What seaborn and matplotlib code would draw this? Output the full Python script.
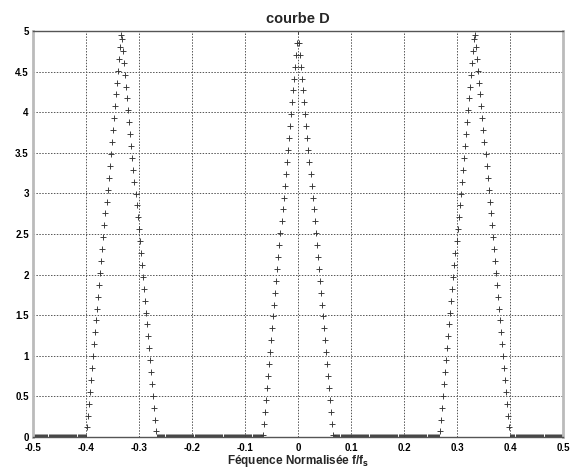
import numpy as np
import matplotlib
matplotlib.use("Agg")
import matplotlib.pyplot as plt
import seaborn as sns
from matplotlib.ticker import FuncFormatter

# normalised frequency grid (512 bins from -0.5 to 0.5)
n_bins = 512
freq = np.arange(-n_bins // 2, n_bins // 2) / n_bins

# amplitude: three triangular lobes, zero elsewhere
lobe_neg = [0.117, 0.264, 0.410, 0.557, 0.703, 0.850, 0.996, 1.143, 1.289, 1.436,
            1.582, 1.729, 1.875, 2.021, 2.168, 2.314, 2.461, 2.607, 2.754, 2.900,
            3.047, 3.193, 3.340, 3.486, 3.633, 3.779, 3.926, 4.072, 4.219, 4.365,
            4.512, 4.658, 4.805, 4.951,
            4.902, 4.756, 4.609, 4.463, 4.316, 4.170, 4.023, 3.877, 3.730, 3.584,
            3.438, 3.291, 3.145, 2.998, 2.852, 2.705, 2.559, 2.412, 2.266, 2.119,
            1.973, 1.826, 1.680, 1.533, 1.387, 1.240, 1.094, 0.947, 0.801, 0.654,
            0.508, 0.361, 0.215, 0.068]
lobe_mid = [0.020, 0.166, 0.312, 0.459, 0.605, 0.752, 0.898, 1.045, 1.191, 1.338,
            1.484, 1.631, 1.777, 1.924, 2.070, 2.217, 2.363, 2.510, 2.656, 2.803,
            2.949, 3.096, 3.242, 3.389, 3.535, 3.682, 3.828, 3.975, 4.121, 4.268,
            4.414, 4.561, 4.707, 4.854, 5.000,
            4.854, 4.707, 4.561, 4.414, 4.268, 4.121, 3.975, 3.828, 3.682, 3.535,
            3.389, 3.242, 3.096, 2.949, 2.803, 2.656, 2.510, 2.363, 2.217, 2.070,
            1.924, 1.777, 1.631, 1.484, 1.338, 1.191, 1.045, 0.898, 0.752, 0.605,
            0.459, 0.312, 0.166, 0.020]
lobe_pos = [0.068, 0.215, 0.361, 0.508, 0.654, 0.801, 0.947, 1.094, 1.240, 1.387,
            1.533, 1.680, 1.826, 1.973, 2.119, 2.266, 2.412, 2.559, 2.705, 2.852,
            2.998, 3.145, 3.291, 3.438, 3.584, 3.730, 3.877, 4.023, 4.170, 4.316,
            4.463, 4.609, 4.756, 4.902,
            4.951, 4.805, 4.658, 4.512, 4.365, 4.219, 4.072, 3.926, 3.779, 3.633,
            3.486, 3.340, 3.193, 3.047, 2.900, 2.754, 2.607, 2.461, 2.314, 2.168,
            2.021, 1.875, 1.729, 1.582, 1.436, 1.289, 1.143, 0.996, 0.850, 0.703,
            0.557, 0.410, 0.264, 0.117]
zero_runs = [52, 102, 102, 51]

amp = np.concatenate([np.zeros(zero_runs[0]), lobe_neg,
                      np.zeros(zero_runs[1]), lobe_mid,
                      np.zeros(zero_runs[2]), lobe_pos,
                      np.zeros(zero_runs[3])])

xticks = np.round(np.arange(-0.5, 0.51, 0.1), 1)
yticks = np.arange(0, 5.01, 0.5)

sns.set_style("whitegrid")
plt.rcParams['font.family'] = ['Liberation Sans', 'DejaVu Sans']

fig = plt.figure(figsize=(5.87, 4.71), dpi=100)
ax = fig.add_axes([0.0562, 0.0722, 0.9032, 0.862])

sns.scatterplot(x=freq, y=amp, marker='+', color='#333333', s=18,
                linewidth=0.65, ax=ax, legend=False)

ax.set_xlim(-0.5, 0.5)
ax.set_ylim(0, 5)
ax.set_xticks(xticks)
ax.set_yticks(yticks)
fmt = FuncFormatter(lambda v, p: f'{v:g}' if abs(v) > 1e-9 else '0')
ax.xaxis.set_major_formatter(fmt)
ax.yaxis.set_major_formatter(fmt)
ax.tick_params(axis='both', direction='in', length=3, labelsize=7,
               colors='#333333', labelcolor='black')
ax.tick_params(axis='x', pad=4)
ax.tick_params(axis='y', pad=3)
for lab in ax.get_xticklabels() + ax.get_yticklabels():
    lab.set_fontweight('bold')

ax.grid(True, linestyle=(0, (1.5, 1.5)), color='#555555', linewidth=0.7)
ax.set_facecolor('white')
ax.set_axisbelow(True)

for side in ['top', 'bottom']:
    ax.spines[side].set_color('#555555')
    ax.spines[side].set_linewidth(1.0)
for side in ['left', 'right']:
    ax.spines[side].set_color('#bbbbbb')
    ax.spines[side].set_linewidth(2.0)

ax.set_title('courbe D', fontsize=10.5, fontweight='bold', pad=6)
ax.set_xlabel('Féquence Normalisée f/f$_\\mathbf{s}$', fontsize=8.5,
              fontweight='bold', labelpad=0)
ax.set_ylabel('')

fig.savefig('out.png', dpi=100)
